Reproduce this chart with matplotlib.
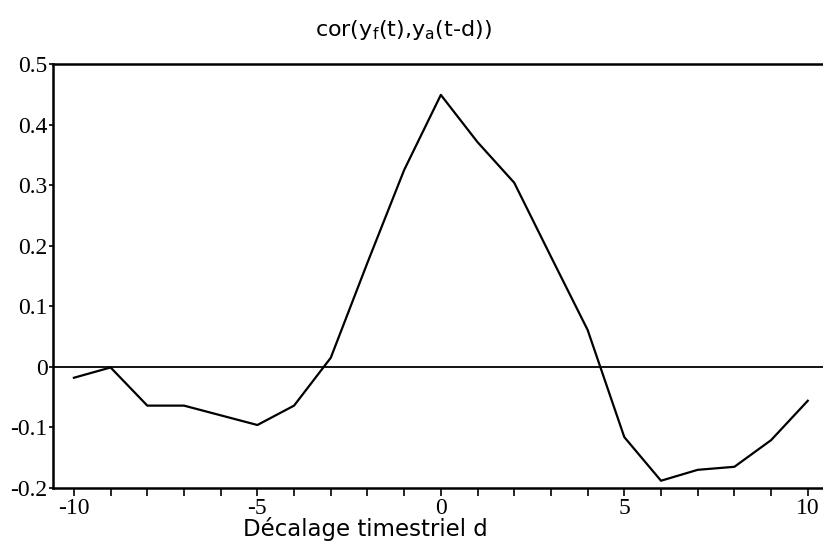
import numpy as np
import matplotlib.pyplot as plt

lags = [-10, -9, -8, -7, -6, -5, -4, -3, -2, -1, 0, 1, 2, 3, 4, 5, 6, 7, 8, 9, 10]
corr = [-0.018, -0.001, -0.064, -0.064, -0.080, -0.096, -0.064, 0.015, 0.172, 0.325,
        0.449, 0.371, 0.304, 0.182, 0.061, -0.116, -0.188, -0.170, -0.165, -0.121, -0.056]

serif = ['Liberation Serif', 'DejaVu Serif']
sans = ['DejaVu Sans']

fig = plt.figure(figsize=(8.23, 5.49), dpi=100)
ax = fig.add_axes([53/823, 1 - 488/549, 1 - 53/823 + 0.002, (488 - 64)/549])

ax.plot(lags, corr, color='black', lw=1.6)
ax.axhline(0, color='black', lw=1.3)

ax.set_xlim(-10.57, 10.46)
ax.set_ylim(-0.2, 0.5)
ax.set_xticks(range(-10, 11))
ax.set_xticklabels([str(v) if v % 5 == 0 else '' for v in range(-10, 11)])
ax.set_yticks([-0.2, -0.1, 0, 0.1, 0.2, 0.3, 0.4, 0.5])
ax.set_yticklabels(['-0.2', '-0.1', '0', '0.1', '0.2', '0.3', '0.4', '0.5'])

for lab in ax.get_xticklabels() + ax.get_yticklabels():
    lab.set_family(serif)
    lab.set_fontsize(17)

ax.tick_params(axis='x', direction='out', length=6, width=1.2, pad=1)
ax.tick_params(axis='y', direction='out', length=3, width=1.2, pad=1)
ax.spines['right'].set_visible(False)
for s in ['left', 'top', 'bottom']:
    ax.spines[s].set_linewidth(1.8)

fig.text(403/823, 1 - 30/549, 'cor(y$_\\mathregular{f}$(t),y$_\\mathregular{a}$(t-d))',
         ha='center', va='center', fontsize=16, family=sans)
fig.text(365/823, 1 - 529/549, 'Décalage timestriel d',
         ha='center', va='center', fontsize=16.5, family=sans)

fig.savefig('out.png', dpi=100)
